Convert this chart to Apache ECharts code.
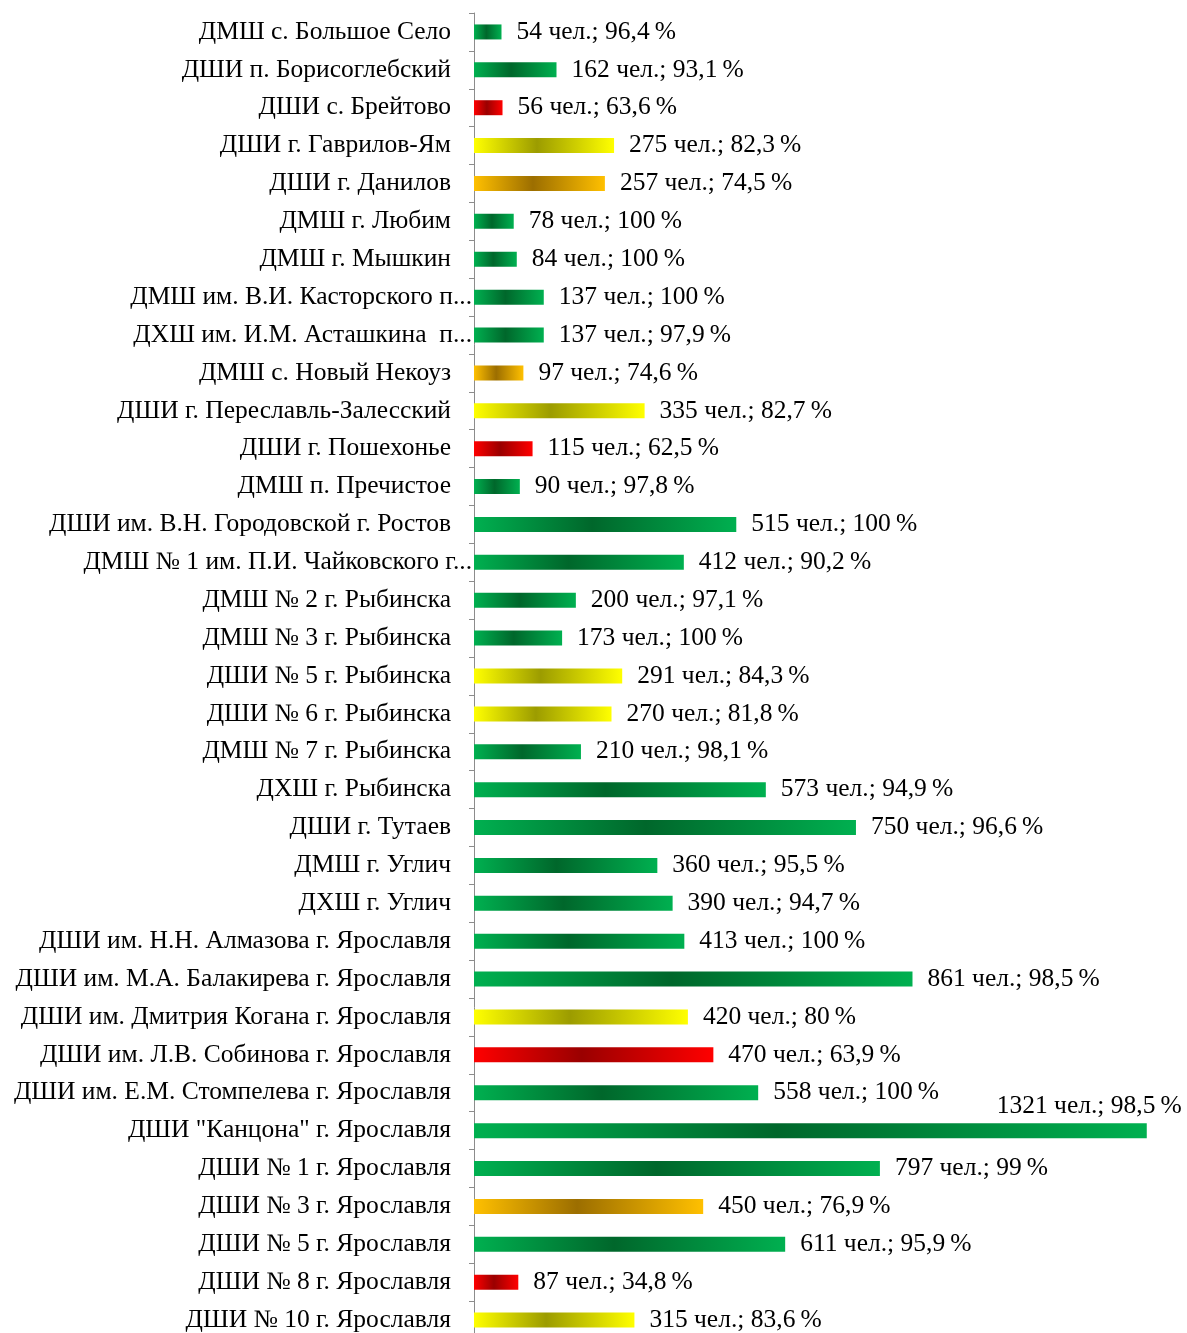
<!DOCTYPE html>
<html>
<head>
<meta charset="utf-8">
<script src="https://cdn.jsdelivr.net/npm/echarts@6/dist/echarts.min.js"></script>
<style>
  html, body { margin: 0; padding: 0; background: #fff; overflow: hidden; }
  #main { width: 1187px; height: 1345px; }
</style>
</head>
<body>
<div id="main"></div>
<script>
// Schools (top to bottom)
var schools = [
    "ДМШ с. Большое Село",
    "ДШИ п. Борисоглебский",
    "ДШИ с. Брейтово",
    "ДШИ г. Гаврилов-Ям",
    "ДШИ г. Данилов",
    "ДМШ г. Любим",
    "ДМШ г. Мышкин",
    "ДМШ им. В.И. Касторского п...",
    "ДХШ им. И.М. Асташкина  п...",
    "ДМШ с. Новый Некоуз",
    "ДШИ г. Переславль-Залесский",
    "ДШИ г. Пошехонье",
    "ДМШ п. Пречистое",
    "ДШИ им. В.Н. Городовской г. Ростов",
    "ДМШ № 1 им. П.И. Чайковского г...",
    "ДМШ № 2 г. Рыбинска",
    "ДМШ № 3 г. Рыбинска",
    "ДШИ № 5 г. Рыбинска",
    "ДШИ № 6 г. Рыбинска",
    "ДМШ № 7 г. Рыбинска",
    "ДХШ г. Рыбинска",
    "ДШИ г. Тутаев",
    "ДМШ г. Углич",
    "ДХШ г. Углич",
    "ДШИ им. Н.Н. Алмазова г. Ярославля",
    "ДШИ им. М.А. Балакирева г. Ярославля",
    "ДШИ им. Дмитрия Когана г. Ярославля",
    "ДШИ им. Л.В. Собинова г. Ярославля",
    "ДШИ им. Е.М. Стомпелева г. Ярославля",
    "ДШИ \"Канцона\" г. Ярославля",
    "ДШИ № 1 г. Ярославля",
    "ДШИ № 3 г. Ярославля",
    "ДШИ № 5 г. Ярославля",
    "ДШИ № 8 г. Ярославля",
    "ДШИ № 10 г. Ярославля"
];

// Number of pupils
var pupils = [54, 162, 56, 275, 257, 78, 84, 137, 137, 97, 335, 115, 90, 515, 412, 200, 173, 291, 270, 210,
              573, 750, 360, 390, 413, 861, 420, 470, 558, 1321, 797, 450, 611, 87, 315];

// Percent, as printed
var percents = ["96,4", "93,1", "63,6", "82,3", "74,5", "100", "100", "100", "97,9", "74,6", "82,7", "62,5",
                "97,8", "100", "90,2", "97,1", "100", "84,3", "81,8", "98,1", "94,9", "96,6", "95,5", "94,7",
                "100", "98,5", "80", "63,9", "100", "98,5", "99", "76,9", "95,9", "34,8", "83,6"];

// Edge / centre colours of the bar gradients
var palette = {
    green:  ["#00B050", "#00672B"],
    yellow: ["#FFFF00", "#9C9C00"],
    orange: ["#FFC000", "#9C6E00"],
    red:    ["#FF0000", "#9A0000"]
};

function colourKey(p){
    var v = parseFloat(p.replace(",", "."));
    if (v >= 90) return "green";
    if (v >= 80) return "yellow";
    if (v >= 70) return "orange";
    return "red";
}

function barGradient(key){
    var c = palette[key];
    return new echarts.graphic.LinearGradient(0, 0, 1, 0, [
        {offset: 0,    color: c[0]},
        {offset: 0.45, color: c[1]},
        {offset: 1,    color: c[0]}
    ]);
}

var font = "'Liberation Serif', 'Times New Roman', serif";
var fontSize = 25.5;

var barData = [];
for (var i = 0; i < pupils.length; i++){
    var item = {
        value: pupils[i],
        itemStyle: {color: barGradient(colourKey(percents[i]))}
    };
    // The biggest bar has its label lifted above the bar end
    if (pupils[i] === 1321){
        item.label = {position: ['100%', -17], align: 'right', verticalAlign: 'middle', offset: [35, 0]};
    }
    barData.push(item);
}

var chart = echarts.init(document.getElementById("main"));

chart.setOption({
    animation: false,
    grid: {left: 474, top: 13, width: 716, height: 1326, containLabel: false},
    xAxis: {
        type: 'value',
        min: 0,
        max: 1400,
        show: false
    },
    yAxis: {
        type: 'category',
        inverse: true,
        data: schools,
        axisLine: {show: true, lineStyle: {color: '#8C8C8C', width: 1}},
        axisTick: {show: true, length: 5, lineStyle: {color: '#8C8C8C'}},
        axisLabel: {
            margin: 2,
            fontFamily: font,
            fontSize: fontSize,
            color: '#000',
            formatter: function (v){
                return v.slice(-3) === "..." ? v : v + "{g|}";
            },
            rich: {g: {width: 21}}
        }
    },
    series: [{
        type: 'bar',
        data: barData,
        barWidth: 15,
        label: {
            show: true,
            position: 'right',
            distance: 15,
            fontFamily: font,
            fontSize: fontSize,
            color: '#000',
            formatter: function (p){
                return pupils[p.dataIndex] + " чел.; " + percents[p.dataIndex] + "\u2009%";
            }
        }
    }]
});
</script>
</body>
</html>
